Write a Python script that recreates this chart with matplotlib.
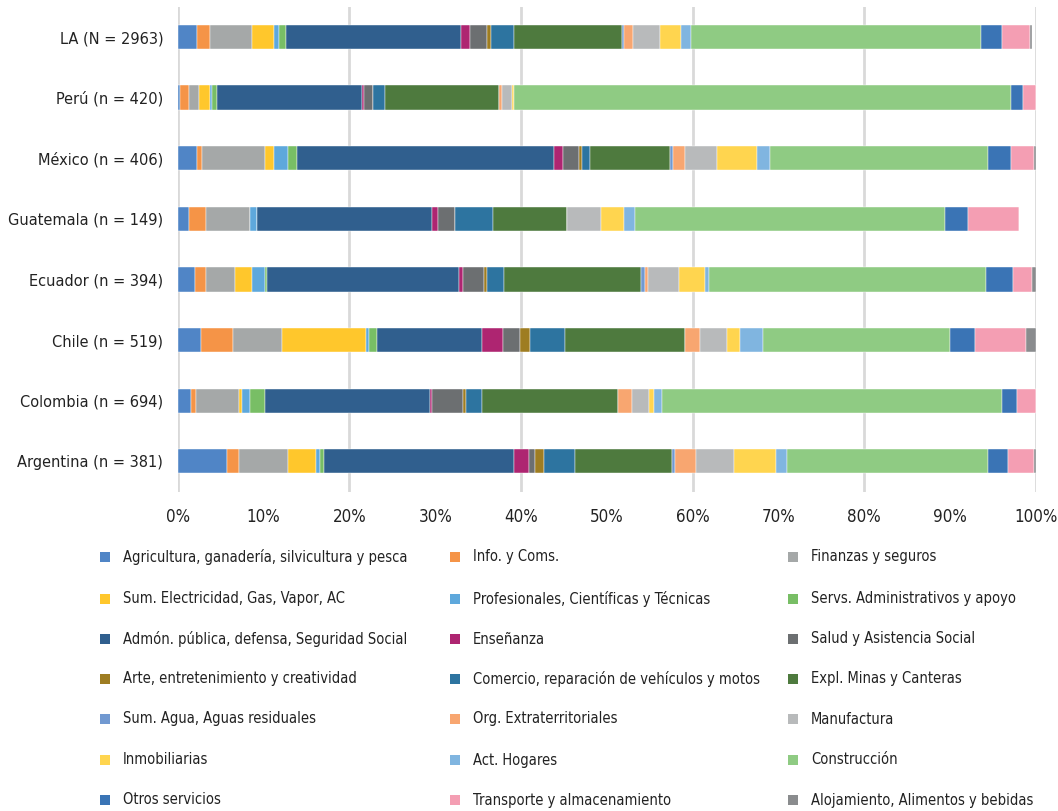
import numpy as np
import matplotlib
matplotlib.use("Agg")
import matplotlib.pyplot as plt
from matplotlib import font_manager
from matplotlib.patches import Rectangle

# font: try a condensed face, otherwise Liberation Sans
names = {f.name for f in font_manager.fontManager.ttflist}
cond_path = font_manager.findfont(font_manager.FontProperties(family="DejaVu Sans", stretch="condensed"))
if "Liberation Sans Narrow" in names:
    plt.rcParams["font.family"] = ["Liberation Sans Narrow", "DejaVu Sans"]
    narrow = True
elif "Condensed" in cond_path:
    plt.rcParams["font.family"] = ["DejaVu Sans"]
    plt.rcParams["font.stretch"] = "condensed"
    narrow = True
else:
    plt.rcParams["font.family"] = ["Liberation Sans", "DejaVu Sans"]
    narrow = False

countries = ["LA (N = 2963)", "Perú (n = 420)", "México (n = 406)", "Guatemala (n = 149)",
             "Ecuador (n = 394)", "Chile (n = 519)", "Colombia (n = 694)", "Argentina (n = 381)"]

sectors = ["Agricultura, ganadería, silvicultura y pesca", "Info. y Coms.", "Finanzas y seguros",
           "Sum. Electricidad, Gas, Vapor, AC", "Profesionales, Científicas y Técnicas",
           "Servs. Administrativos y apoyo", "Admón. pública, defensa, Seguridad Social",
           "Enseñanza", "Salud y Asistencia Social", "Arte, entretenimiento y creatividad",
           "Comercio, reparación de vehículos y motos", "Expl. Minas y Canteras",
           "Sum. Agua, Aguas residuales", "Org. Extraterritoriales", "Manufactura",
           "Inmobiliarias", "Act. Hogares", "Construcción", "Otros servicios",
           "Transporte y almacenamiento", "Alojamiento, Alimentos y bebidas"]

colors = ["#5085C6", "#F59447", "#A5A8A8", "#FFC72C", "#5EA8DC", "#78BE65", "#305F8E",
          "#AE2571", "#6C6F71", "#9E7D22", "#2D74A0", "#4E7A3E", "#7199D1", "#F8A670",
          "#B8BABB", "#FFD54F", "#80B5E0", "#8FCB83", "#3A74B5", "#F49EB3", "#8A8C8E"]

# shares (%) per sector, one list per country (same order as countries)
la        = [2.27, 1.52, 4.90, 2.48, 0.66, 0.82, 20.39, 1.01, 1.94, 0.54, 2.68, 12.55,
             0.23, 1.01, 3.19, 2.48, 1.17, 33.75, 2.45, 3.26, 0.23]
peru      = [0.29, 1.05, 1.16, 1.25, 0.23, 0.55, 16.97, 0.23, 0.98, 0.00, 1.47, 13.29,
             0.00, 0.27, 1.20, 0.27, 0.00, 57.88, 1.40, 1.51, 0.00]
mexico    = [2.27, 0.51, 7.42, 1.01, 1.67, 1.01, 29.98, 1.02, 1.90, 0.31, 0.97, 9.32,
             0.28, 1.47, 3.69, 4.66, 1.51, 25.37, 2.68, 2.72, 0.23]
guatemala = [1.30, 1.95, 5.20, 0.00, 0.74, 0.00, 20.43, 0.74, 1.98, 0.00, 4.42, 8.63,
             0.00, 0.00, 3.92, 2.68, 1.25, 36.20, 2.68, 5.90, 0.00]
ecuador   = [2.00, 1.25, 3.42, 2.02, 1.51, 0.23, 22.37, 0.47, 2.44, 0.32, 1.94, 16.04,
             0.47, 0.27, 3.69, 2.96, 0.50, 32.24, 3.18, 2.21, 0.47]
chile     = [2.74, 3.73, 5.67, 9.83, 0.27, 1.01, 12.23, 2.45, 1.98, 1.09, 4.15, 13.99,
             0.00, 1.74, 3.15, 1.48, 2.71, 21.72, 2.95, 5.91, 1.20]
colombia  = [1.54, 0.54, 5.09, 0.28, 0.96, 1.79, 19.19, 0.23, 3.61, 0.32, 1.93, 15.78,
             0.00, 1.70, 1.98, 0.51, 1.01, 39.62, 1.71, 2.21, 0.00]
argentina = [5.73, 1.44, 5.71, 3.22, 0.47, 0.50, 22.14, 1.75, 0.70, 1.01, 3.65, 11.30,
             0.32, 2.44, 4.43, 4.89, 1.32, 23.35, 2.40, 3.00, 0.23]

data = np.array([la, peru, mexico, guatemala, ecuador, chile, colombia, argentina])

lab_fs = 11.7 if narrow else 11
tick_fs = 12.2 if narrow else 11
leg_fs = 10.5

fig = plt.figure(figsize=(10.58, 8.11), dpi=100)
ax = fig.add_axes([177.8 / 1058, 1 - 491.6 / 811, 858.2 / 1058, 484.9 / 811])

y = np.arange(len(countries))
left = np.zeros(len(countries))
for j in range(len(sectors)):
    ax.barh(y, data[:, j], left=left, height=0.4, color=colors[j],
            edgecolor="white", linewidth=0.3, zorder=3)
    left += data[:, j]

ax.set_xlim(0, 100)
ax.set_ylim(len(countries) - 0.5, -0.5)
ax.set_yticks(y)
ax.set_yticklabels(countries, fontsize=lab_fs, color="#222222")
ax.set_xticks(np.arange(0, 101, 10))
ax.set_xticklabels([f"{v}%" for v in range(0, 101, 10)], fontsize=tick_fs, color="#222222")
ax.tick_params(axis="both", length=0)
ax.tick_params(axis="y", pad=10.5)
ax.tick_params(axis="x", pad=12)
for s in ax.spines.values():
    s.set_visible(False)
for gx in range(0, 101, 20):
    ax.axvline(gx, color="#D9D9D9", linewidth=2, zorder=1)

# legend, 3 columns laid out row by row
col_x = [105, 455, 793]
row_y = [557, 599, 639, 679, 719, 760, 800]
W, H = 1058, 811
sq = 10
for i, (name, c) in enumerate(zip(sectors, colors)):
    r, k = divmod(i, 3)
    cx, cy = col_x[k], row_y[r]
    fig.add_artist(Rectangle(((cx - sq / 2) / W, 1 - (cy + sq / 2) / H), sq / W, sq / H,
                             transform=fig.transFigure, facecolor=c, edgecolor="none"))
    fig.text((cx + 18) / W, 1 - cy / H, name, fontsize=leg_fs, va="center", ha="left",
             color="#222222")

fig.savefig("out.png", dpi=100)
